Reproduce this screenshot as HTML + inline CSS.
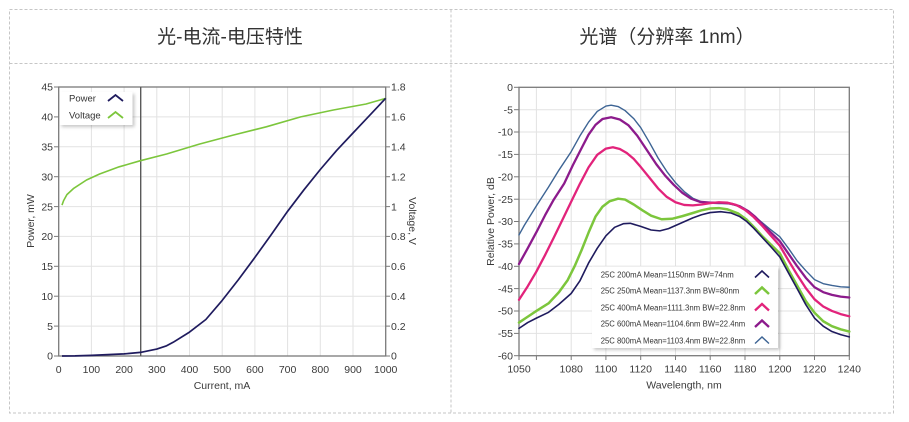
<!DOCTYPE html>
<html>
<head>
<meta charset="utf-8">
<style>
  html, body { margin:0; padding:0; background:#fff; }
  body { width:909px; height:422px; overflow:hidden; }
  svg { display:block; }
  text { font-family: "Liberation Sans", "Noto Sans CJK SC", sans-serif; }
</style>
</head>
<body>
<svg width="909" height="422" viewBox="0 0 909 422" xmlns="http://www.w3.org/2000/svg">
  <defs>
    <filter id="sh" x="-10%" y="-10%" width="130%" height="140%">
      <feDropShadow dx="2" dy="2" stdDeviation="1.5" flood-color="#000" flood-opacity="0.22"/>
    </filter>
  </defs>

  <!-- Panel borders -->
  <g fill="none" stroke="#c6c6c6" stroke-width="1" stroke-dasharray="3,2">
    <rect x="9.5" y="9.5" width="884" height="403.5"/>
    <line x1="451" y1="9.5" x2="451" y2="413"/>
    <line x1="9.5" y1="63.5" x2="893.5" y2="63.5"/>
  </g>

  <!-- Titles -->
  <text x="230" y="43" font-size="19" fill="#333" text-anchor="middle" font-family="'Liberation Sans','Noto Sans CJK SC',sans-serif">光-电流-电压特性</text>
  <text x="667" y="43" font-size="19" fill="#333" text-anchor="middle" font-family="'Liberation Sans','Noto Sans CJK SC',sans-serif">光谱（分辨率  1nm）</text>

  <!-- ================= LEFT CHART ================= -->
  <!-- grid -->
  <g stroke="#e2e2e2" stroke-width="1">
    <line x1="91.4" y1="87" x2="91.4" y2="356"/>
    <line x1="124.1" y1="87" x2="124.1" y2="356"/>
    <line x1="156.8" y1="87" x2="156.8" y2="356"/>
    <line x1="189.5" y1="87" x2="189.5" y2="356"/>
    <line x1="222.2" y1="87" x2="222.2" y2="356"/>
    <line x1="254.9" y1="87" x2="254.9" y2="356"/>
    <line x1="287.6" y1="87" x2="287.6" y2="356"/>
    <line x1="320.3" y1="87" x2="320.3" y2="356"/>
    <line x1="353.0" y1="87" x2="353.0" y2="356"/>
    <line x1="58.7" y1="326.1" x2="385.7" y2="326.1"/>
    <line x1="58.7" y1="296.2" x2="385.7" y2="296.2"/>
    <line x1="58.7" y1="266.3" x2="385.7" y2="266.3"/>
    <line x1="58.7" y1="236.4" x2="385.7" y2="236.4"/>
    <line x1="58.7" y1="206.6" x2="385.7" y2="206.6"/>
    <line x1="58.7" y1="176.7" x2="385.7" y2="176.7"/>
    <line x1="58.7" y1="146.8" x2="385.7" y2="146.8"/>
    <line x1="58.7" y1="116.9" x2="385.7" y2="116.9"/>
  </g>
  <!-- frame -->
  <rect x="58.7" y="87" width="327" height="269" fill="none" stroke="#7a7a7a" stroke-width="1.3"/>
  <!-- ticks -->
  <g stroke="#7a7a7a" stroke-width="1">
    <line x1="54" y1="356" x2="58.7" y2="356"/>
    <line x1="54" y1="326.1" x2="58.7" y2="326.1"/>
    <line x1="54" y1="296.2" x2="58.7" y2="296.2"/>
    <line x1="54" y1="266.3" x2="58.7" y2="266.3"/>
    <line x1="54" y1="236.4" x2="58.7" y2="236.4"/>
    <line x1="54" y1="206.6" x2="58.7" y2="206.6"/>
    <line x1="54" y1="176.7" x2="58.7" y2="176.7"/>
    <line x1="54" y1="146.8" x2="58.7" y2="146.8"/>
    <line x1="54" y1="116.9" x2="58.7" y2="116.9"/>
    <line x1="54" y1="87" x2="58.7" y2="87"/>
    <line x1="385.7" y1="356" x2="390" y2="356"/>
    <line x1="385.7" y1="326.1" x2="390" y2="326.1"/>
    <line x1="385.7" y1="296.2" x2="390" y2="296.2"/>
    <line x1="385.7" y1="266.3" x2="390" y2="266.3"/>
    <line x1="385.7" y1="236.4" x2="390" y2="236.4"/>
    <line x1="385.7" y1="206.6" x2="390" y2="206.6"/>
    <line x1="385.7" y1="176.7" x2="390" y2="176.7"/>
    <line x1="385.7" y1="146.8" x2="390" y2="146.8"/>
    <line x1="385.7" y1="116.9" x2="390" y2="116.9"/>
    <line x1="385.7" y1="87" x2="390" y2="87"/>
  </g>
  <!-- left y labels -->
  <g font-size="10.5" fill="#3a3a3a" text-anchor="end">
    <text x="53" y="359.7">0</text>
    <text x="53" y="329.8">5</text>
    <text x="53" y="299.9">10</text>
    <text x="53" y="270">15</text>
    <text x="53" y="240.1">20</text>
    <text x="53" y="210.3">25</text>
    <text x="53" y="180.4">30</text>
    <text x="53" y="150.5">35</text>
    <text x="53" y="120.6">40</text>
    <text x="53" y="90.7">45</text>
  </g>
  <!-- right y labels -->
  <g font-size="10.5" fill="#3a3a3a" text-anchor="start">
    <text x="391" y="359.7">0</text>
    <text x="391" y="329.8">0.2</text>
    <text x="391" y="299.9">0.4</text>
    <text x="391" y="270">0.6</text>
    <text x="391" y="240.1">0.8</text>
    <text x="391" y="210.3">1</text>
    <text x="391" y="180.4">1.2</text>
    <text x="391" y="150.5">1.4</text>
    <text x="391" y="120.6">1.6</text>
    <text x="391" y="90.7">1.8</text>
  </g>
  <!-- x labels -->
  <g font-size="10.5" fill="#3a3a3a" text-anchor="middle">
    <text x="58.7" y="373">0</text>
    <text x="91.4" y="373">100</text>
    <text x="124.1" y="373">200</text>
    <text x="156.8" y="373">300</text>
    <text x="189.5" y="373">400</text>
    <text x="222.2" y="373">500</text>
    <text x="254.9" y="373">600</text>
    <text x="287.6" y="373">700</text>
    <text x="320.3" y="373">800</text>
    <text x="353.0" y="373">900</text>
    <text x="385.7" y="373">1000</text>
  </g>
  <!-- axis titles -->
  <text x="222" y="389" font-size="10.5" fill="#3a3a3a" text-anchor="middle">Current, mA</text>
  <text transform="translate(34,221) rotate(-90)" font-size="10.5" fill="#3a3a3a" text-anchor="middle">Power, mW</text>
  <text transform="translate(409,221) rotate(90)" font-size="10.5" fill="#3a3a3a" text-anchor="middle">Voltage, V</text>

  <!-- cursor line -->
  <line x1="140.7" y1="87" x2="140.7" y2="356" stroke="#5a5a5a" stroke-width="1.4"/>

  <!-- Voltage curve -->
  <polyline fill="none" stroke="#7cc63c" stroke-width="1.6" stroke-linejoin="round"
    points="62.0,205.1 63.6,200.6 66.9,194.6 73.4,188.6 86.5,180.0 99.6,174.0 119.2,166.8 140.45,160.7 166.6,154.0 199.3,144.1 233.6,135.0 266.3,126.8 300.7,116.9 333.4,110.0 366.1,104.0 385.7,98.4"/>
  <!-- Power curve -->
  <polyline fill="none" stroke="#1f1b5e" stroke-width="1.7" stroke-linejoin="round"
    points="62.0,356 75.05,355.9 91.4,355.4 107.75,354.6 124.1,353.9 140.45,352.4 156.8,349.1 166.6,345.8 173.15,342.3 189.5,332.1 205.85,319.5 222.2,300.4 238.55,279.5 254.9,257.4 271.25,234.6 287.6,211.3 303.95,189.8 320.3,169.5 336.65,150.4 353.0,133.0 369.35,115.7 385.7,98.3"/>

  <!-- left legend -->
  <rect x="59.5" y="92" width="73" height="33" fill="#fff" filter="url(#sh)"/>
  <text x="69" y="101.5" font-size="9.5" fill="#333">Power</text>
  <text x="69" y="118.5" font-size="9.5" fill="#333">Voltage</text>
  <polyline points="108,101 115.5,95 123,101" fill="none" stroke="#1f1b5e" stroke-width="1.8"/>
  <polyline points="108,118 115.5,112 123,118" fill="none" stroke="#7cc63c" stroke-width="1.8"/>

  <!-- ================= RIGHT CHART ================= -->
  <g stroke="#e2e2e2" stroke-width="1">
    <line x1="536.4" y1="87.3" x2="536.4" y2="355.7"/>
    <line x1="571.2" y1="87.3" x2="571.2" y2="355.7"/>
    <line x1="605.9" y1="87.3" x2="605.9" y2="355.7"/>
    <line x1="640.7" y1="87.3" x2="640.7" y2="355.7"/>
    <line x1="675.5" y1="87.3" x2="675.5" y2="355.7"/>
    <line x1="710.2" y1="87.3" x2="710.2" y2="355.7"/>
    <line x1="745.0" y1="87.3" x2="745.0" y2="355.7"/>
    <line x1="779.8" y1="87.3" x2="779.8" y2="355.7"/>
    <line x1="814.5" y1="87.3" x2="814.5" y2="355.7"/>
    <line x1="519" y1="109.7" x2="849.3" y2="109.7"/>
    <line x1="519" y1="132.0" x2="849.3" y2="132.0"/>
    <line x1="519" y1="154.4" x2="849.3" y2="154.4"/>
    <line x1="519" y1="176.8" x2="849.3" y2="176.8"/>
    <line x1="519" y1="199.2" x2="849.3" y2="199.2"/>
    <line x1="519" y1="221.5" x2="849.3" y2="221.5"/>
    <line x1="519" y1="243.9" x2="849.3" y2="243.9"/>
    <line x1="519" y1="266.3" x2="849.3" y2="266.3"/>
    <line x1="519" y1="288.6" x2="849.3" y2="288.6"/>
    <line x1="519" y1="311.0" x2="849.3" y2="311.0"/>
    <line x1="519" y1="333.4" x2="849.3" y2="333.4"/>
  </g>
  <rect x="519" y="87.3" width="330.3" height="268.4" fill="none" stroke="#7a7a7a" stroke-width="1.3"/>
  <g stroke="#7a7a7a" stroke-width="1">
    <line x1="514" y1="87.3" x2="519" y2="87.3"/>
    <line x1="514" y1="109.7" x2="519" y2="109.7"/>
    <line x1="514" y1="132.0" x2="519" y2="132.0"/>
    <line x1="514" y1="154.4" x2="519" y2="154.4"/>
    <line x1="514" y1="176.8" x2="519" y2="176.8"/>
    <line x1="514" y1="199.2" x2="519" y2="199.2"/>
    <line x1="514" y1="221.5" x2="519" y2="221.5"/>
    <line x1="514" y1="243.9" x2="519" y2="243.9"/>
    <line x1="514" y1="266.3" x2="519" y2="266.3"/>
    <line x1="514" y1="288.6" x2="519" y2="288.6"/>
    <line x1="514" y1="311.0" x2="519" y2="311.0"/>
    <line x1="514" y1="333.4" x2="519" y2="333.4"/>
    <line x1="514" y1="355.7" x2="519" y2="355.7"/>
    <line x1="519" y1="355.7" x2="519" y2="360"/>
    <line x1="536.4" y1="355.7" x2="536.4" y2="360"/>
    <line x1="571.2" y1="355.7" x2="571.2" y2="360"/>
    <line x1="605.9" y1="355.7" x2="605.9" y2="360"/>
    <line x1="640.7" y1="355.7" x2="640.7" y2="360"/>
    <line x1="675.5" y1="355.7" x2="675.5" y2="360"/>
    <line x1="710.2" y1="355.7" x2="710.2" y2="360"/>
    <line x1="745.0" y1="355.7" x2="745.0" y2="360"/>
    <line x1="779.8" y1="355.7" x2="779.8" y2="360"/>
    <line x1="814.5" y1="355.7" x2="814.5" y2="360"/>
    <line x1="849.3" y1="355.7" x2="849.3" y2="360"/>
  </g>
  <g font-size="10.5" fill="#3a3a3a" text-anchor="end">
    <text x="513" y="91">0</text>
    <text x="513" y="113.4">-5</text>
    <text x="513" y="135.7">-10</text>
    <text x="513" y="158.1">-15</text>
    <text x="513" y="180.5">-20</text>
    <text x="513" y="202.9">-25</text>
    <text x="513" y="225.2">-30</text>
    <text x="513" y="247.6">-35</text>
    <text x="513" y="270">-40</text>
    <text x="513" y="292.3">-45</text>
    <text x="513" y="314.7">-50</text>
    <text x="513" y="337.1">-55</text>
    <text x="513" y="359.4">-60</text>
  </g>
  <g font-size="10.5" fill="#3a3a3a" text-anchor="middle">
    <text x="519" y="372.5">1050</text>
    <text x="571.2" y="372.5">1080</text>
    <text x="605.9" y="372.5">1100</text>
    <text x="640.7" y="372.5">1120</text>
    <text x="675.5" y="372.5">1140</text>
    <text x="710.2" y="372.5">1160</text>
    <text x="745.0" y="372.5">1180</text>
    <text x="779.8" y="372.5">1200</text>
    <text x="814.5" y="372.5">1220</text>
    <text x="849.3" y="372.5">1240</text>
  </g>
  <text x="684" y="388.5" font-size="10.5" fill="#3a3a3a" text-anchor="middle">Wavelength, nm</text>
  <text transform="translate(494,221.5) rotate(-90)" font-size="10.5" fill="#3a3a3a" text-anchor="middle">Relative Power, dB</text>

  <!-- spectra: data coords (nm-1050, -dB) -->
  <g transform="translate(519,87.3) scale(1.7384,4.473)" fill="none" stroke-linejoin="round" stroke-linecap="round">
    <!-- 800mA blue -->
    <polyline vector-effect="non-scaling-stroke" stroke="#3d6494" stroke-width="1.4"
      points="0,33 3,30.9 10,26.5 17,22.3 23,18.5 30,14.4 35,10.9 40,7.8 45,5.4 50,4.2 53,4.0 57,4.3 61,5.2 66,7.0 70,9.0 75,12.3 80,15.8 85,18.8 90,21.3 95,23.3 100,24.8 105,25.6 110,25.9 115,26.0 120,26.0 125,26.4 130,27.3 135,28.7 140,30.3 145,31.9 150,33.4 155,36.0 160,38.8 165,41.0 170,43.0 175,43.9 180,44.3 185,44.6 190,44.7"/>
    <!-- 600mA purple -->
    <polyline vector-effect="non-scaling-stroke" stroke="#8c1b8c" stroke-width="2.3"
      points="0,39.5 5,36.0 10,32.4 15,28.6 20,25.1 26,21.5 31,17.4 36,13.6 40,10.6 44,8.4 48,7.1 53,6.7 58,7.2 63,8.5 68,10.8 74,14.3 79,17.2 84,19.7 89,21.8 94,23.6 99,24.9 104,25.6 110,25.8 116,25.8 122,26.0 127,26.6 132,27.7 136,29.0 140,30.6 145,32.5 150,34.4 155,37.2 160,40.0 165,42.6 170,44.7 175,45.8 180,46.4 185,46.8 190,47.0"/>
    <!-- 400mA pink -->
    <polyline vector-effect="non-scaling-stroke" stroke="#e2237b" stroke-width="2.3"
      points="0,47.5 5,44.5 10,41.2 15,37.5 20,33.6 25,29.6 30,25.6 35,21.6 40,17.9 45,15.1 50,13.7 54,13.4 58,13.8 62,14.7 66,16.0 70,17.8 75,20.2 80,22.6 85,24.5 90,25.7 95,26.3 100,26.4 105,26.2 110,25.9 115,25.7 120,25.8 125,26.3 130,27.4 135,29.0 140,31.0 145,33.2 150,35.4 155,38.7 160,41.9 165,44.9 170,47.4 175,49.0 180,50.0 185,50.7 190,51.2"/>
    <!-- 250mA green -->
    <polyline vector-effect="non-scaling-stroke" stroke="#7cc63c" stroke-width="2.5"
      points="0,52.6 5,51.3 10,50.0 17,48.3 23,45.8 28,43.1 32,40.0 36,36.4 40,32.5 44,28.9 48,26.7 52,25.5 57,24.9 61,25.1 66,26.2 71,27.5 76,28.7 82,29.5 88,29.4 94,28.8 100,28.1 105,27.5 110,27.1 115,27.0 120,27.3 126,28.2 131,29.6 136,31.6 140,33.3 145,35.2 150,37.1 155,40.8 160,44.3 165,47.8 170,50.4 175,52.3 180,53.4 185,54.1 190,54.6"/>
    <!-- 200mA navy -->
    <polyline vector-effect="non-scaling-stroke" stroke="#1f1b5e" stroke-width="1.6"
      points="0,53.9 5,52.6 10,51.6 17,50.3 23,48.5 30,46.1 35,43.3 40,39.3 45,36.0 50,33.2 55,31.3 60,30.5 64,30.4 70,31.1 76,31.9 81,32.1 86,31.6 93,30.4 100,29.2 105,28.5 110,28.0 116,27.8 122,28.1 127,28.9 131,30.0 135,31.5 140,33.6 145,35.7 150,37.9 155,41.5 160,45.0 165,48.6 170,51.6 175,53.4 180,54.6 185,55.3 190,55.8"/>
  </g>

  <!-- right legend -->
  <rect x="592" y="266.5" width="186" height="81.5" fill="#fff" filter="url(#sh)"/>
  <g font-size="8" fill="#333">
    <text x="600.7" y="277.3" textLength="133" lengthAdjust="spacingAndGlyphs">25C 200mA Mean=1150nm BW=74nm</text>
    <text x="600.7" y="293.7" textLength="138.5" lengthAdjust="spacingAndGlyphs">25C 250mA Mean=1137.3nm BW=80nm</text>
    <text x="600.7" y="310.3" textLength="144.5" lengthAdjust="spacingAndGlyphs">25C 400mA Mean=1111.3nm BW=22.8nm</text>
    <text x="600.7" y="326.7" textLength="144.5" lengthAdjust="spacingAndGlyphs">25C 600mA Mean=1104.6nm BW=22.4nm</text>
    <text x="600.7" y="343.3" textLength="144.5" lengthAdjust="spacingAndGlyphs">25C 800mA Mean=1103.4nm BW=22.8nm</text>
  </g>
  <g fill="none">
    <polyline points="755,277.5 762,271 769,277.5" stroke="#1f1b5e" stroke-width="1.6"/>
    <polyline points="755,294 762,287.5 769,294" stroke="#7cc63c" stroke-width="2.5"/>
    <polyline points="755,310.5 762,304 769,310.5" stroke="#e2237b" stroke-width="2.3"/>
    <polyline points="755,327 762,320.5 769,327" stroke="#8c1b8c" stroke-width="2.3"/>
    <polyline points="755,343.5 762,337 769,343.5" stroke="#3d6494" stroke-width="1.4"/>
  </g>
</svg>
</body>
</html>
